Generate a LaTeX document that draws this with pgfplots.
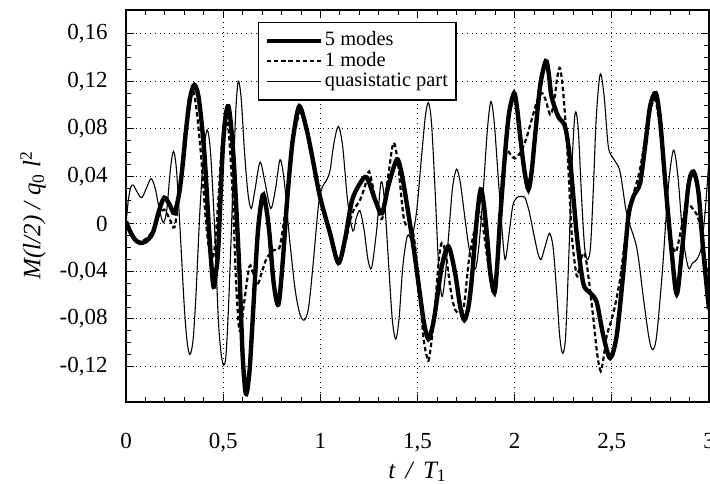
\documentclass[border=0pt]{standalone}
\usepackage{fontspec}
\setmainfont{Liberation Serif}
\usepackage{pgfplots}
\pgfplotsset{compat=1.18}
\usetikzlibrary{calc}
\begin{document}
\begin{tikzpicture}
\begin{axis}[
  scale only axis,
  width=291.5pt, height=196pt,
  xmin=0, xmax=3, ymin=-0.15, ymax=0.18,
  xtick={0,0.5,1,1.5,2,2.5,3},
  xticklabels={0,{0,5},1,{1,5},2,{2,5},3},
  ytick={-0.12,-0.08,-0.04,0,0.04,0.08,0.12,0.16},
  yticklabels={{-0,12},{-0,08},{-0,04},0,{0,04},{0,08},{0,12},{0,16}},
  minor x tick num=4, minor y tick num=3,
  tick align=inside,
  major tick length=4pt, minor tick length=2.5pt,
  tick style={black, line width=0.4pt},
  grid=major,
  major grid style={dotted, black, line width=0.45pt},
  axis line style={line width=0.6pt},
  ticklabel style={font=\fontsize{11.5}{12}\selectfont},
  xticklabel shift=12pt,
  yticklabel shift=5.7pt,
  xlabel={\itshape t\, /\, T\textsubscript{\upshape 1}},
  ylabel={\itshape M(l/2) / q\textsubscript{\upshape 0} l\textsuperscript{\upshape 2}},
  x label style={at={(axis description cs:0.5,-0.178)}, anchor=center, font=\fontsize{12.5}{12.5}\selectfont},
  y label style={at={(axis description cs:-0.1595,0.477)}, anchor=center, rotate=0, font=\fontsize{12.5}{12.5}\selectfont},
  legend style={at={(axis description cs:0.2264,0.969)}, anchor=north west,
    draw=black, line width=0.6pt, fill=white,
    font=\fontsize{10.2}{10.2}\selectfont,
    inner xsep=3pt, inner ysep=4pt, column sep=0pt, row sep=0pt,
    nodes={inner xsep=1pt, inner ysep=0.5pt, text height=7pt, text depth=2.2pt}},
  legend cell align=left,
  legend image code/.code={\draw[#1] (0pt,0pt) -- (27pt,0pt);},
]
\addplot[black, line width=2.2pt, smooth] coordinates {
(0,0.002) (0.02,-0.006) (0.045,-0.013) (0.07,-0.016) (0.1,-0.015) (0.137,-0.008)
(0.17,0.011) (0.197,0.022) (0.225,0.016) (0.249,0.009) (0.274,0.026) (0.292,0.05)
(0.309,0.079) (0.33,0.106) (0.352,0.117) (0.375,0.105) (0.403,0.06) (0.429,-0.01)
(0.449,-0.052) (0.462,-0.042) (0.475,-0.02) (0.497,0.06) (0.512,0.09) (0.527,0.099)
(0.542,0.08) (0.557,0.046) (0.583,-0.038) (0.6,-0.11) (0.617,-0.143) (0.635,-0.125)
(0.652,-0.080) (0.678,-0.008) (0.703,0.024) (0.72,0.015) (0.738,-0.008) (0.76,-0.05)
(0.784,-0.068) (0.805,-0.035) (0.827,0.015) (0.845,0.05) (0.861,0.074) (0.892,0.099)
(0.93,0.079) (0.96,0.055) (0.998,0.023) (1.05,-0.008) (1.093,-0.033) (1.127,-0.013)
(1.162,0.019) (1.204,0.034) (1.239,0.039) (1.282,0.020) (1.317,0.009) (1.35,0.032)
(1.393,0.054) (1.415,0.045) (1.436,0.026) (1.479,-0.019) (1.513,-0.06) (1.535,-0.085)
(1.556,-0.097) (1.575,-0.088) (1.59,-0.075) (1.625,-0.036) (1.659,-0.019) (1.693,-0.041)
(1.72,-0.07) (1.741,-0.081) (1.762,-0.07) (1.779,-0.047) (1.805,0.004) (1.825,0.029)
(1.84,0.018) (1.856,-0.007) (1.875,-0.042) (1.896,-0.058) (1.91,-0.035) (1.925,0.004)
(1.951,0.060) (1.971,0.093) (1.997,0.110) (2.012,0.098) (2.028,0.074) (2.05,0.045)
(2.071,0.029) (2.088,0.045) (2.105,0.074) (2.131,0.116) (2.16,0.137) (2.175,0.127)
(2.19,0.107) (2.225,0.090) (2.259,0.082) (2.285,0.054) (2.32,-0.010) (2.353,-0.050)
(2.388,-0.058) (2.422,-0.066) (2.456,-0.094) (2.491,-0.113) (2.525,-0.094) (2.559,-0.041)
(2.585,0.006) (2.611,0.023) (2.645,0.034) (2.671,0.065) (2.697,0.099) (2.726,0.110)
(2.748,0.088) (2.774,0.037) (2.808,-0.024) (2.834,-0.059) (2.86,-0.024) (2.894,0.032)
(2.92,0.044) (2.946,0.026) (2.971,-0.024) (3.0,-0.072)
};
\addlegendentry{5 modes}
\addplot[black, line width=1.1pt, dash pattern=on 2.2pt off 1.4pt, smooth] coordinates {
(0,0.002) (0.02,-0.006) (0.045,-0.012) (0.07,-0.015) (0.1,-0.013) (0.137,-0.006)
(0.17,0.008) (0.197,0.012) (0.225,0.004) (0.249,-0.003) (0.27,0.02) (0.29,0.055)
(0.31,0.088) (0.325,0.107) (0.343,0.113) (0.36,0.1) (0.385,0.06) (0.41,0.005)
(0.43,-0.025) (0.443,-0.030) (0.458,-0.018) (0.475,0.02) (0.495,0.07) (0.513,0.092)
(0.53,0.075) (0.55,0.02) (0.565,-0.045) (0.58,-0.085) (0.59,-0.089) (0.605,-0.07)
(0.635,-0.036) (0.655,-0.042) (0.68,-0.050) (0.7,-0.04) (0.724,-0.029) (0.76,-0.022)
(0.79,-0.02) (0.815,0.005) (0.84,0.04) (0.87,0.078) (0.899,0.094) (0.93,0.08)
(0.96,0.055) (0.998,0.023) (1.05,-0.008) (1.093,-0.032) (1.127,-0.017) (1.162,0.008)
(1.204,0.02) (1.23,0.032) (1.251,0.044) (1.282,0.022) (1.317,0.004) (1.345,0.035)
(1.376,0.068) (1.4,0.05) (1.43,0.004) (1.46,-0.003) (1.48,-0.01) (1.505,-0.045)
(1.53,-0.095) (1.55,-0.113) (1.559,-0.114) (1.575,-0.095) (1.59,-0.07) (1.61,-0.03)
(1.625,-0.016) (1.645,-0.025) (1.67,-0.055) (1.693,-0.072) (1.72,-0.075) (1.74,-0.068)
(1.765,-0.03) (1.797,-0.002) (1.815,0.01) (1.835,0.0) (1.856,-0.025) (1.875,-0.045)
(1.896,-0.058) (1.915,-0.02) (1.935,0.03) (1.958,0.060) (1.98,0.058) (2.0,0.055)
(2.03,0.06) (2.06,0.072) (2.088,0.088) (2.115,0.103) (2.14,0.110) (2.16,0.104)
(2.182,0.092) (2.2,0.1) (2.22,0.124) (2.234,0.131) (2.25,0.11) (2.268,0.07)
(2.28,0.035) (2.294,-0.010) (2.32,-0.044) (2.34,-0.03) (2.36,-0.025) (2.38,-0.045)
(2.405,-0.080) (2.425,-0.11) (2.443,-0.124) (2.46,-0.11) (2.474,-0.094) (2.508,-0.075)
(2.542,-0.047) (2.577,-0.002) (2.603,0.020) (2.645,0.046) (2.688,0.088) (2.719,0.105)
(2.74,0.09) (2.765,0.05) (2.79,0.0) (2.825,-0.024) (2.85,-0.01) (2.877,0.012)
(2.895,0.016) (2.92,0.012) (2.946,0.004) (2.971,-0.02) (3.0,-0.05)
};
\addlegendentry{1 mode}
\addplot[black, line width=0.55pt, smooth] coordinates {
(0,0.0) (0.012,0.02) (0.025,0.031) (0.038,0.0325) (0.06,0.026) (0.081,0.022)
(0.105,0.03) (0.129,0.038) (0.15,0.03) (0.172,0.012) (0.192,0.001) (0.21,0.012)
(0.228,0.045) (0.244,0.061) (0.26,0.045) (0.28,-0.01) (0.3,-0.07) (0.315,-0.1)
(0.329,-0.110) (0.345,-0.098) (0.36,-0.06) (0.38,0.01) (0.4,0.06) (0.418,0.079)
(0.435,0.06) (0.455,0.0) (0.475,-0.08) (0.49,-0.11) (0.503,-0.119) (0.515,-0.11)
(0.53,-0.06) (0.55,0.03) (0.565,0.095) (0.578,0.120) (0.593,0.105) (0.61,0.06)
(0.628,0.025) (0.645,0.013) (0.665,0.03) (0.69,0.052) (0.715,0.035) (0.745,0.013)
(0.77,0.03) (0.793,0.054) (0.815,0.035) (0.84,-0.01) (0.87,-0.055) (0.895,-0.076)
(0.918,-0.081) (0.94,-0.07) (0.965,-0.03) (0.99,0.015) (1.01,0.031) (1.03,0.036)
(1.05,0.045) (1.07,0.068) (1.093,0.082) (1.115,0.065) (1.14,0.02) (1.167,-0.006)
(1.185,0.005) (1.204,0.011) (1.225,-0.005) (1.245,-0.03) (1.264,-0.037) (1.29,-0.005)
(1.312,0.035) (1.33,0.02) (1.35,-0.03) (1.37,-0.08) (1.388,-0.097) (1.405,-0.08)
(1.425,-0.035) (1.448,-0.010) (1.47,-0.012) (1.495,0.01) (1.52,0.055) (1.54,0.09)
(1.556,0.102) (1.572,0.085) (1.59,0.03) (1.607,-0.03) (1.625,-0.061) (1.642,-0.045)
(1.66,-0.01) (1.68,0.03) (1.701,0.046) (1.72,0.035) (1.74,0.01) (1.765,-0.02)
(1.796,-0.038) (1.815,-0.02) (1.835,0.02) (1.86,0.08) (1.878,0.103) (1.895,0.085)
(1.915,0.04) (1.935,-0.005) (1.951,-0.030) (1.97,-0.01) (1.99,0.015) (2.011,0.022)
(2.032,0.023) (2.053,0.022) (2.075,0.01) (2.1,-0.01) (2.12,-0.025) (2.136,-0.030)
(2.155,-0.02) (2.179,-0.008) (2.198,-0.02) (2.215,-0.055) (2.232,-0.095) (2.247,-0.109)
(2.262,-0.095) (2.278,-0.03) (2.295,0.05) (2.311,0.093) (2.327,0.08) (2.345,0.02)
(2.36,-0.02) (2.375,-0.03) (2.39,-0.02) (2.405,0.03) (2.42,0.09) (2.44,0.126)
(2.46,0.108) (2.482,0.065) (2.508,0.055) (2.542,0.044) (2.577,0.008) (2.628,-0.020)
(2.662,-0.062) (2.69,-0.095) (2.709,-0.106) (2.73,-0.095) (2.76,-0.04) (2.79,0.03)
(2.817,0.062) (2.84,0.04) (2.865,-0.01) (2.894,-0.037) (2.915,-0.033) (2.937,-0.030)
(2.96,-0.02) (2.98,0.01) (3.0,0.054)
};
\addlegendentry{quasistatic part}
\end{axis}
\pgfresetboundingbox
\path[use as bounding box] ($(current axis.south west)+(-63pt,-40.5pt)$) rectangle ($(current axis.north east)+(0.5pt,5pt)$);
\end{tikzpicture}
\end{document}
